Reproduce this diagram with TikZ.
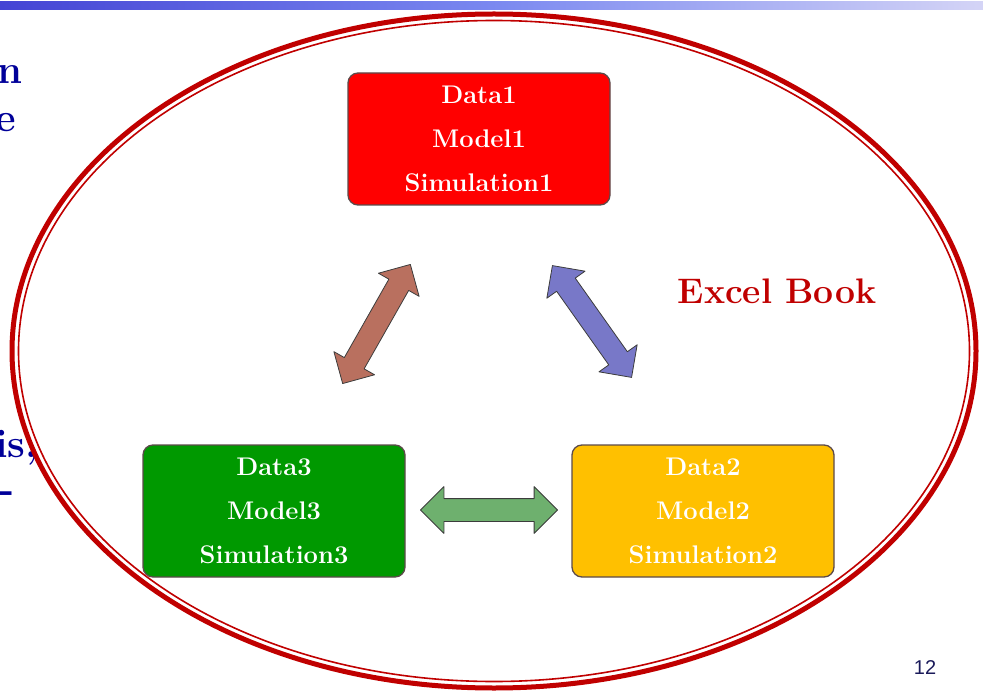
\documentclass[tikz,border=0pt]{standalone}
\usepackage{fontspec}
\newfontfamily\pagenofont{Liberation Sans}
\usetikzlibrary{shapes.arrows}

\definecolor{xlbarleft}{HTML}{4444D4}
\definecolor{xlbarmid}{HTML}{7A88F0}
\definecolor{xlbarright}{HTML}{D4D4F6}
\definecolor{xlring}{HTML}{C00000}
\definecolor{xlboxedge}{HTML}{5C4A4A}
\definecolor{xlred}{HTML}{FF0000}
\definecolor{xlyellow}{HTML}{FFC000}
\definecolor{xlgreen}{HTML}{009900}
\definecolor{xlarrowedge}{HTML}{3C3C3C}
\definecolor{xlbrown}{HTML}{B9705F}
\definecolor{xlblue}{HTML}{7878C8}
\definecolor{xlgreenarrow}{HTML}{6EB06E}
\definecolor{xlslidetext}{HTML}{000099}
\definecolor{xlpageno}{HTML}{1A1A5A}

\begin{document}
\begin{tikzpicture}[x=1pt,y=-1pt,line join=round,
  infobox/.style={rounded corners=10pt,draw=xlboxedge,line width=1.3pt,
    minimum width=262pt,minimum height=132pt,text=white,align=center,
    font=\fontsize{25.5}{44}\selectfont\bfseries},
  linkarrow/.style={double arrow,double arrow head extend=12pt,
    minimum width=46pt,minimum height=137pt,inner xsep=0pt,inner ysep=11pt,
    draw=xlarrowedge,line width=0.8pt},
  slidetext/.style={text=xlslidetext,inner sep=0pt,anchor=base east,
    font=\fontsize{40}{40}\selectfont\bfseries}]
  % Match the slide crop.
  \useasboundingbox (0,0) rectangle (983,695);

  % Title bar of the slide.
  \shade[left color=xlbarleft,right color=xlbarright,middle color=xlbarmid]
    (0,2) rectangle (983,10);

  % Cut-off words of the slide text behind the ring.
  \node[slidetext] (frag1) at (23,84) {n};
  \node[slidetext] (frag2) at (16,132) {e};
  \node[slidetext] (frag3) at (38,457) {is,};
  \node[slidetext] (frag4) at (15,502) {r-};

  % Double ring round the book.
  \draw[xlring,line width=5pt] (494,351) ellipse [x radius=482,y radius=337];
  \draw[xlring,line width=1.6pt] (494,351) ellipse [x radius=475.5,y radius=330.5];

  % The three sheets.
  \node[infobox,fill=xlred] (box1) at (479,139) {Data1\\Model1\\Simulation1};
  \node[infobox,fill=xlyellow] (box2) at (703,511) {Data2\\Model2\\Simulation2};
  \node[infobox,fill=xlgreen] (box3) at (274,511) {Data3\\Model3\\Simulation3};

  % Links between the sheets.
  \node[linkarrow,fill=xlbrown,rotate=60.4] (a31) at (376.5,324) {};
  \node[linkarrow,fill=xlblue,rotate=-54.7] (a12) at (592,321.5) {};
  \node[linkarrow,fill=xlgreenarrow] (a23) at (489,510) {};

  \node[text=xlring,font=\fontsize{35.5}{35.5}\selectfont\bfseries] (title) at (777,291) {Excel Book};
  \node[text=xlpageno,font=\pagenofont\fontsize{20}{20}\selectfont] (pageno) at (925,668) {12};
\end{tikzpicture}
\end{document}
